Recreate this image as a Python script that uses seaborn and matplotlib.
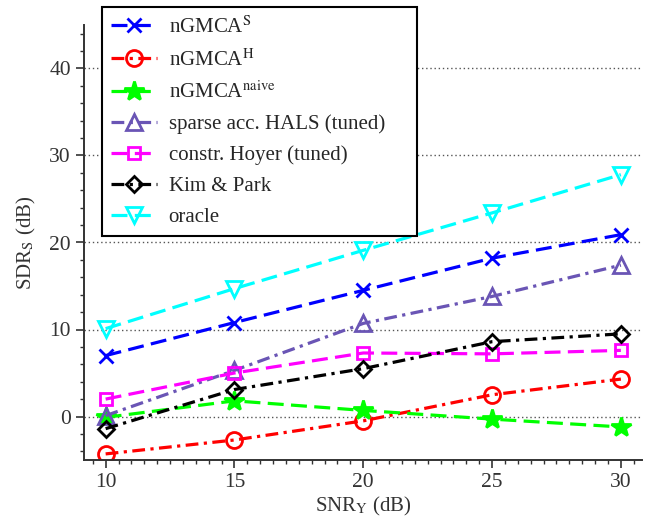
import matplotlib
matplotlib.use("Agg")
import matplotlib.pyplot as plt
import seaborn as sns
import numpy as np
from matplotlib.ticker import MultipleLocator

# data
snr = [10, 15, 20, 25, 30]
ngmca_s = [7.0, 10.8, 14.5, 18.2, 20.9]
ngmca_h = [-4.3, -2.7, -0.5, 2.5, 4.3]
ngmca_naive = [-0.1, 1.8, 0.7, -0.3, -1.2]
hals_tuned = [0.1, 5.3, 10.7, 13.8, 17.4]
hoyer_tuned = [2.0, 5.0, 7.3, 7.2, 7.6]
kim_park = [-1.4, 3.1, 5.5, 8.6, 9.5]
oracle = [10.1, 14.7, 19.1, 23.4, 27.8]

labels = [r'nGMCA$^\mathrm{S}$', r'nGMCA$^\mathrm{H}$', r'nGMCA$^\mathrm{naive}$',
          'sparse acc. HALS (tuned)', 'constr. Hoyer (tuned)', 'Kim & Park', 'oracle']

sns.set_style('ticks')
plt.rcParams['font.family'] = ['Liberation Serif', 'DejaVu Serif']
plt.rcParams['mathtext.fontset'] = 'stix'

dash = (0, (5, 2.3))
dashdot = (0, (4, 1.7, 1, 1.7))
styles = [
    # color, marker, linestyle, markersize, filled
    ('#0000ff', 'x', dash, 10, True),
    ('#ff0000', 'o', dashdot, 11.5, False),
    ('#00ff00', '*', dash, 15, True),
    ('#6a55b5', '^', dashdot, 12, False),
    ('#ff00ff', 's', dash, 9, False),
    ('#000000', 'D', dashdot, 8.5, False),
    ('#00ffff', 'v', dash, 12, False),
]
series = [ngmca_s, ngmca_h, ngmca_naive, hals_tuned, hoyer_tuned, kim_park, oracle]

fig = plt.figure(figsize=(6.70, 5.18), dpi=100)
ax = fig.add_axes([84 / 670, 1 - 460 / 518, (642 - 84) / 670, (460 - 25) / 518])

for vals, lab, (col, mk, ls, ms, filled) in zip(series, labels, styles):
    sns.lineplot(x=snr, y=vals, ax=ax, color=col, marker=mk, linestyle=ls,
                 linewidth=2.3, markersize=ms, markeredgewidth=2,
                 markeredgecolor=col, markerfacecolor=col if filled else 'none',
                 label=lab)

ax.set_xlim(9.16, 30.82)
ax.set_ylim(-5, 45)
ax.xaxis.set_major_locator(MultipleLocator(5))
ax.xaxis.set_minor_locator(MultipleLocator(0.5))
ax.yaxis.set_major_locator(MultipleLocator(10))
ax.yaxis.set_minor_locator(MultipleLocator(2))
ax.tick_params(which='major', direction='out', length=6, width=1.2, colors='#333333',
               labelsize=15.5, labelcolor='#333333')
ax.tick_params(which='minor', direction='out', length=3, width=1, colors='#333333')
for side in ['top', 'right']:
    ax.spines[side].set_visible(False)
for side in ['left', 'bottom']:
    ax.spines[side].set_color('#333333')
    ax.spines[side].set_linewidth(1.4)
ax.yaxis.grid(True, which='major', linestyle=(0, (1, 2)), color='#555555', linewidth=1)
ax.set_axisbelow(True)

ax.set_xlabel(r'SNR$_\mathrm{Y}$ (dB)', fontsize=15, color='#333333', labelpad=2)
ax.set_ylabel(r'SDR$_\mathrm{S}$ (dB)', fontsize=15, color='#333333', labelpad=8)

# legend box spans roughly x 102-417 px, y 7-235 px of the figure
leg = ax.legend(loc='upper left',
                bbox_to_anchor=(102 / 670, 1 - 235 / 518, 315 / 670, 228 / 518),
                bbox_transform=fig.transFigure, mode='expand', borderaxespad=0,
                fontsize=15, numpoints=1, handlelength=2.2, handletextpad=0.55,
                borderpad=0.45, labelspacing=0.54, fancybox=False,
                framealpha=1, edgecolor='black')
leg.get_frame().set_linewidth(1.5)

fig.savefig('out.png', dpi=100)
